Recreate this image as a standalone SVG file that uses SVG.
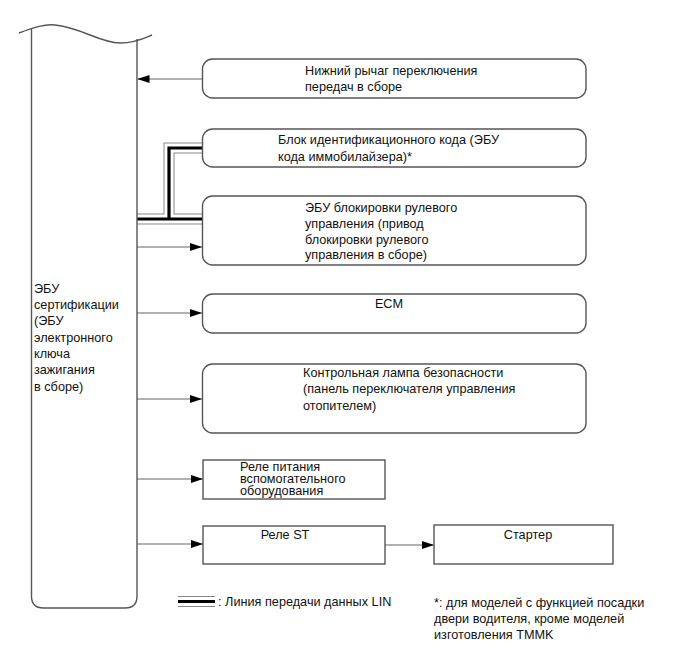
<svg xmlns="http://www.w3.org/2000/svg" width="691" height="660" viewBox="0 0 691 660">
<defs>
<style>
.box{fill:#fff;stroke:#555;stroke-width:1.4}
.ln{fill:none;stroke:#666;stroke-width:1.2}
.t{font-family:"Liberation Sans",Arial,sans-serif;font-size:12.7px;fill:#111}
.lg{fill:none;stroke:#888;stroke-width:11;stroke-linejoin:miter}
.lw{fill:none;stroke:#fff;stroke-width:9;stroke-linejoin:miter}
.lb{fill:none;stroke:#000;stroke-width:3.2;stroke-linejoin:miter}
</style>
<marker id="ah" viewBox="0 0 12 8" refX="12" refY="4" markerWidth="12" markerHeight="8" markerUnits="userSpaceOnUse" orient="auto">
<path d="M0,0 L12,4 L0,8 Z" fill="#000"/>
</marker>
</defs>
<rect width="691" height="660" fill="#fff"/>

<g id="connectors">
<line class="ln" x1="202" y1="79" x2="137.5" y2="79" marker-end="url(#ah)"/>
<line class="ln" x1="137" y1="247" x2="202" y2="247" marker-end="url(#ah)"/>
<line class="ln" x1="137" y1="313" x2="202" y2="313" marker-end="url(#ah)"/>
<line class="ln" x1="137" y1="399" x2="202" y2="399" marker-end="url(#ah)"/>
<line class="ln" x1="137" y1="479" x2="203" y2="479" marker-end="url(#ah)"/>
<line class="ln" x1="137" y1="544" x2="203" y2="544" marker-end="url(#ah)"/>
<line class="ln" x1="385" y1="545" x2="434" y2="545" marker-end="url(#ah)"/>
<g id="lin">
<path class="lg" d="M137,219 H202 M169,219 V148 H202"/>
<path class="lw" d="M137,219 H202 M169,219 V148 H202"/>
<path class="lb" d="M137,219 H202 M169,219 V148 H202"/>
</g>
</g>

<g id="ecu-cert">
<path class="box" d="M31.5,29 V596 Q31.5,608 43.5,608 H125 Q137,608 137,596 V39"/>
<path fill="none" stroke="#555" stroke-width="1.4" d="M19,33 C35,27 45,24 55,25 C80,27 100,43 120,43 C135,43 145,38 152,35"/>
<text class="t"><tspan x="34" y="293">ЭБУ</tspan><tspan x="34" y="309">сертификации</tspan><tspan x="34" y="325">(ЭБУ</tspan><tspan x="34" y="342">электронного</tspan><tspan x="34" y="358">ключа</tspan><tspan x="34" y="374">зажигания</tspan><tspan x="34" y="391">в сборе)</tspan></text>
</g>

<g id="shift-lever">
<rect class="box" x="202.5" y="59" width="383.5" height="39" rx="10"/>
<text class="t"><tspan x="305" y="75">Нижний рычаг переключения</tspan><tspan x="305" y="91">передач в сборе</tspan></text>
</g>

<g id="id-code-box">
<rect class="box" x="202.5" y="129" width="383.5" height="38" rx="10"/>
<text class="t"><tspan x="278" y="144">Блок идентификационного кода (ЭБУ</tspan><tspan x="278" y="161">кода иммобилайзера)*</tspan></text>
</g>

<g id="steering-lock">
<rect class="box" x="202.5" y="196" width="383.5" height="69" rx="10"/>
<text class="t"><tspan x="305" y="212">ЭБУ блокировки рулевого</tspan><tspan x="305" y="228">управления (привод</tspan><tspan x="305" y="244">блокировки рулевого</tspan><tspan x="305" y="259">управления в сборе)</tspan></text>
</g>

<g id="ecm">
<rect class="box" x="202.5" y="294" width="383.5" height="39" rx="10"/>
<text class="t" x="389" y="308" text-anchor="middle">ECM</text>
</g>

<g id="security-lamp">
<rect class="box" x="202.5" y="364" width="383.5" height="69" rx="10"/>
<text class="t"><tspan x="303" y="377">Контрольная лампа безопасности</tspan><tspan x="303" y="393">(панель переключателя управления</tspan><tspan x="303" y="410">отопителем)</tspan></text>
</g>

<g id="acc-relay">
<rect class="box" x="203" y="460" width="182" height="39"/>
<text class="t"><tspan x="240" y="471">Реле питания</tspan><tspan x="240" y="483">вспомогательного</tspan><tspan x="240" y="495">оборудования</tspan></text>
</g>

<g id="st-relay">
<rect class="box" x="203" y="526" width="182" height="38"/>
<text class="t" x="285" y="539" text-anchor="middle">Реле ST</text>
</g>

<g id="starter">
<rect class="box" x="434" y="525" width="179" height="39"/>
<text class="t" x="528" y="539" text-anchor="middle">Стартер</text>
</g>

<g id="legend">
<path class="lg" d="M178,601.5 H215"/>
<path class="lw" d="M178,601.5 H215"/>
<path class="lb" d="M178,601.5 H215"/>
<text class="t" x="218" y="605.5">: Линия передачи данных LIN</text>
<text class="t"><tspan x="434" y="607">*: для моделей с функцией посадки</tspan><tspan x="434" y="623">двери водителя, кроме моделей</tspan><tspan x="434" y="639">изготовления TMMK</tspan></text>
</g>
</svg>
